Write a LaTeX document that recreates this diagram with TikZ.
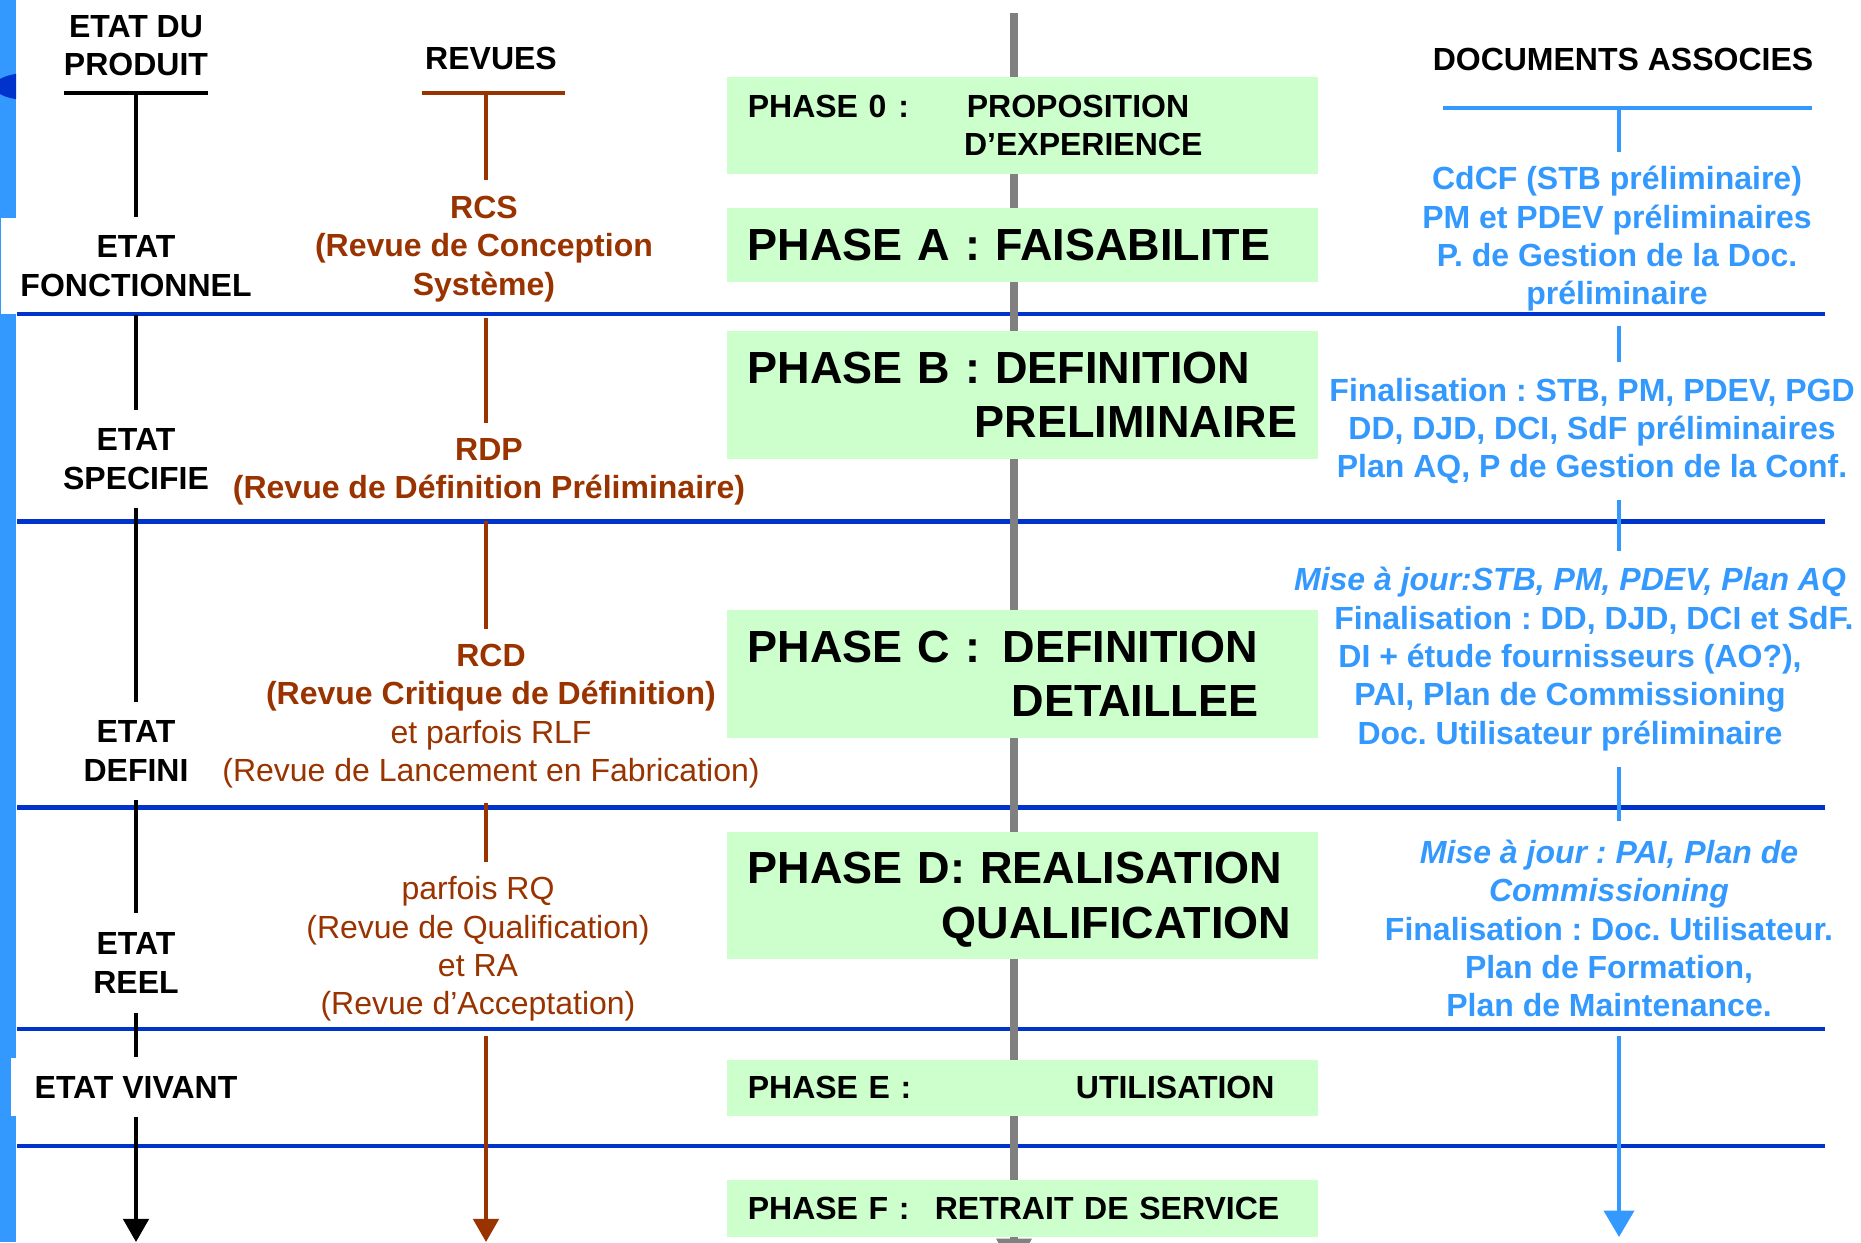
\documentclass[tikz,border=0pt]{standalone}
\usepackage{fontspec}
\setmainfont{Liberation Sans}
\usetikzlibrary{arrows.meta}
\frenchspacing

\definecolor{brownc}{HTML}{993300}
\definecolor{docblue}{HTML}{3399FF}
\definecolor{linblue}{HTML}{0033CC}
\definecolor{phgreen}{HTML}{CCFFCC}
\definecolor{axgray}{HTML}{808080}

\newcommand{\labfont}{\fontsize{9.1pt}{10.9pt}\selectfont\bfseries}
\newcommand{\phbigfont}{\fontsize{12.8pt}{15.6pt}\selectfont\bfseries}

\begin{document}
\begin{tikzpicture}[x=0.01cm, y=-0.01cm,
    lab/.style={font=\labfont, align=center, inner sep=0pt},
    etat/.style={lab, minimum height=27.6pt},
    revue/.style={lab, text=brownc},
    docu/.style={lab, text=docblue},
    phase/.style={font=\labfont, fill=phgreen, anchor=north west, inner xsep=6pt, inner ysep=0pt, text width=156.2pt, align=left},
    bigphase/.style={phase, font=\phbigfont},
    sepline/.style={draw=linblue, line width=1.15pt},
    blk/.style={draw=black, line width=1.15pt},
    rev/.style={draw=brownc, line width=1.2pt},
    doc/.style={draw=docblue, line width=1.15pt},
    endtip/.style={-{Triangle[width=7.2pt,length=6.6pt]}}
]
\useasboundingbox (0,0) rectangle (1861,1242);

% left margin bar
\fill[docblue] (0,0) rectangle (16,1242);
\begin{scope}
  \clip (0,0) rectangle (16,1242);
  \fill[linblue] (30,86.5) ellipse [x radius=10.2pt, y radius=3.9pt];
\end{scope}

% etat du produit
\node[lab] (prod) at (136,45.7) {ETAT DU\\PRODUIT};
\coordinate (prodL) at (64,93);
\coordinate (prodR) at (208,93);
\coordinate (prodT) at (136,93);
\node[etat, fill=white, minimum width=76.8pt, minimum height=27.3pt] (fonc) at (136,266) {ETAT\\FONCTIONNEL};
\node[etat] (spec) at (136,459) {ETAT\\SPECIFIE};
\node[etat] (defi) at (136,751) {ETAT\\DEFINI};
\node[etat, minimum height=27.9pt] (reel) at (136,963) {ETAT\\REEL};
\node[lab, fill=white, minimum width=71.1pt, minimum height=16.5pt] (viv) at (136,1087) {ETAT VIVANT};
\coordinate (prodEnd) at (136,1242);

% revues
\node[lab] (revues) at (491,58.5) {REVUES};
\coordinate (revL) at (422,93);
\coordinate (revR) at (565,93);
\coordinate (revT) at (486,93);
\node[revue, minimum height=38.7pt] (rcs) at (484,249) {RCS\\(Revue de Conception\\Système)};
\node[revue, minimum height=27.6pt] (rdp) at (489,472) {RDP\\(Revue de Définition Préliminaire)};
\node[revue, minimum height=49.2pt] (rcd) at (491,716) {RCD\\(Revue Critique de Définition)\\{\mdseries et parfois RLF}\\{\mdseries (Revue de Lancement en Fabrication)}};
\node[revue, font=\labfont\mdseries, minimum height=48.9pt] (rq) at (478,949) {parfois RQ\\(Revue de Qualification)\\et RA\\(Revue d’Acceptation)};
\coordinate (revEnd) at (486,1242);

% documents associes
\node[lab] (docs) at (1623,59.5) {DOCUMENTS ASSOCIES};
\coordinate (docL) at (1443,108);
\coordinate (docR) at (1812,108);
\coordinate (docT) at (1619,108);
\node[docu, minimum height=49.2pt] (cdcf) at (1617,239) {CdCF (STB préliminaire)\\PM et PDEV préliminaires\\P. de Gestion de la Doc.\\préliminaire};
\node[docu, minimum height=38.7pt] (stb) at (1592,431) {Finalisation : STB, PM, PDEV, PGD\\DD, DJD, DCI, SdF préliminaires\\Plan AQ, P de Gestion de la Conf.};
\node[docu, minimum height=60.9pt] (majA) at (1570,659) {\textit{Mise à jour:STB, PM, PDEV, Plan AQ}\\\hspace*{13.6pt}Finalisation : DD, DJD, DCI et SdF.\\DI + étude fournisseurs (AO?),\\PAI, Plan de Commissioning\\Doc. Utilisateur préliminaire};
\node[docu, minimum height=60.6pt] (majB) at (1609,928.5) {\textit{Mise à jour : PAI, Plan de}\\\textit{Commissioning}\\Finalisation : Doc. Utilisateur.\\Plan de Formation,\\Plan de Maintenance.};
\coordinate (docEnd) at (1619,1237);

% phase separators
\foreach \yy in {314,521.5,807.5,1029,1146}
  \draw[sepline] (17,\yy) -- (1825,\yy);

% time axis
\coordinate (axTop) at (1014,13);
\coordinate (axEnd) at (1014,1272);
\draw[draw=axgray, line width=2.3pt, -{Triangle[width=9.5pt,length=9.5pt]}] (axTop) -- (axEnd);

% phases
\node[phase, minimum height=27.6pt] (ph0) at (726,76) {\makebox[62.3pt][l]{PHASE 0\hspace{3.4pt}:}PROPOSITION\\\hspace*{61.5pt}D’EXPERIENCE};
\node[bigphase, minimum height=21.05pt] (phA) at (726,207) {PHASE A : FAISABILITE};
\node[bigphase, minimum height=36.4pt] (phB) at (726,330) {PHASE B : DEFINITION\\\hspace*{\fill}PRELIMINAIRE};
\node[bigphase, minimum height=36.4pt] (phC) at (726,609) {PHASE C :\hspace{6.4pt}DEFINITION\\\hspace*{\fill}DETAILLEE\hspace*{11pt}\mbox{}};
\node[bigphase, minimum height=36.1pt] (phD) at (726,831) {\rule{0pt}{11.7pt}PHASE D: REALISATION\\\hspace*{\fill}QUALIFICATION\hspace*{1.7pt}\mbox{}};
\node[phase, minimum height=15.9pt] (phE) at (726,1059) {\makebox[93.3pt][l]{PHASE E :}UTILISATION};
\node[phase, minimum height=16.2pt] (phF) at (726,1179) {\makebox[53.2pt][l]{PHASE F :}RETRAIT DE SERVICE};

% etat du produit connectors
\draw[blk] (prodL) -- (prodR);
\draw[blk] (prodT) -- (fonc.north);
\draw[blk] (fonc.south) -- (spec.north);
\draw[blk] (spec.south) -- (defi.north);
\draw[blk] (defi.south) -- (reel.north);
\draw[blk] (reel.south) -- (viv.north);
\draw[blk, endtip] (viv.south) -- (prodEnd);

% revues connectors
\draw[rev] (revL) -- (revR);
\draw[rev] (revT) -- (revT |- rcs.north);
\draw[rev] (revT |- rcs.south) -- (revT |- rdp.north);
\draw[rev] (revT |- rdp.south) -- (revT |- rcd.north);
\draw[rev] (revT |- rcd.south) -- (revT |- rq.north);
\draw[rev, endtip] (revT |- rq.south) -- (revEnd);

% documents connectors
\draw[doc] (docL) -- (docR);
\draw[doc] (docT) -- (docT |- cdcf.north);
\draw[doc] (docT |- cdcf.south) -- (docT |- stb.north);
\draw[doc] (docT |- stb.south) -- (docT |- majA.north);
\draw[doc] (docT |- majA.south) -- (docT |- majB.north);
\draw[doc, -{Triangle[width=8.5pt,length=7.5pt]}] (docT |- majB.south) -- (docEnd);
\end{tikzpicture}
\end{document}
